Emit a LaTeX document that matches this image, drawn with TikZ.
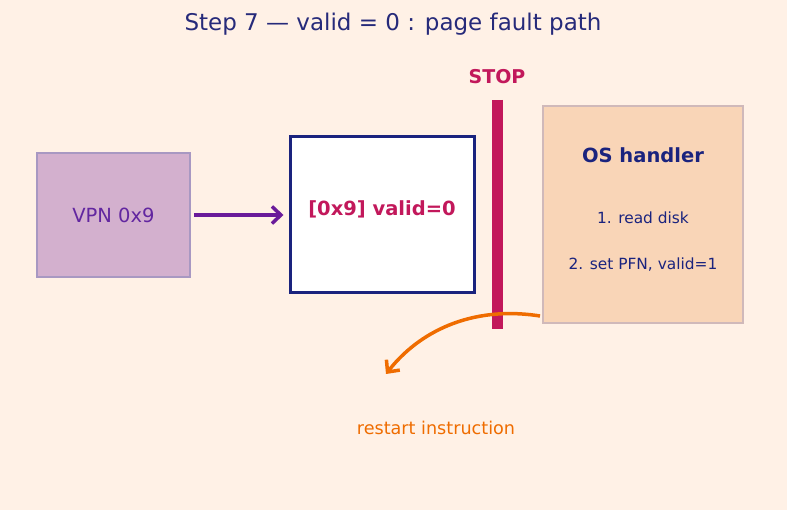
\documentclass[tikz,border=0pt]{standalone}
\usepackage{fontspec}
\setmainfont{DejaVu Sans}
\usetikzlibrary{arrows.meta}
\definecolor{bg}{HTML}{FFF1E6}
\definecolor{navy}{HTML}{1A237E}
\definecolor{titlec}{HTML}{262A7A}
\definecolor{mag}{HTML}{C2185B}
\definecolor{purp}{HTML}{6A1B9A}
\definecolor{vpnfill}{HTML}{D3B0CE}
\definecolor{vpnline}{HTML}{A898C2}
\definecolor{vpntext}{HTML}{6226A0}
\definecolor{osfill}{HTML}{F9D5B7}
\definecolor{osline}{HTML}{D0B9BA}
\definecolor{orng}{HTML}{EF6C00}
\tikzset{
  box/.style={draw, line width=2.5pt, inner sep=0pt},
  lbl/.style={inner sep=0pt, anchor=center},
  tip/.style={-{Straight Barb[length=9pt,width=17pt]}},
}
\begin{document}
\begin{tikzpicture}[x=1pt,y=-1pt]
\fill[bg] (0,0) rectangle (787,510);
\useasboundingbox (0,0) rectangle (787,510);
\node[lbl, text=titlec, font=\fontsize{23}{26}\selectfont] (title) at (393,24) {Step 7 — valid = 0 : page fault path};
\node[box, fill=vpnfill, draw=vpnline, minimum width=153pt, minimum height=124pt] (vpn) at (113.5,215) {};
\node[lbl, text=vpntext, font=\fontsize{19.5}{22}\selectfont] (vpnt) at (113.5,215) {VPN 0x9};
\node[box, fill=white, draw=navy, line width=3pt, minimum width=184pt, minimum height=156pt] (pte) at (382,215) {};
\node[lbl, text=mag, font=\bfseries\fontsize{19.5}{22}\selectfont] (ptet) at (382,209) {[0x9] valid=0};
\node[box, fill=osfill, draw=osline, minimum width=200pt, minimum height=217pt] (os) at (643,214.5) {};
\node[lbl, text=navy, font=\bfseries\fontsize{19.5}{22}\selectfont] (ost) at (643,155) {OS handler};
\node[lbl, text=navy, font=\fontsize{15.4}{18}\selectfont] (os1) at (643,218) {1. read disk};
\node[lbl, text=navy, font=\fontsize{15.4}{18}\selectfont] (os2) at (643,265) {2. set PFN, valid=1};
\node[lbl, text=mag, font=\bfseries\fontsize{19}{22}\selectfont] (stop) at (497,77) {STOP};
\coordinate (bartop) at (497,100);
\coordinate (barbot) at (497,329);
\draw[mag, line width=11pt] (bartop) -- (barbot);
\draw[purp, line width=3.5pt, tip] ([xshift=3pt]vpn.east) -- ([xshift=-5pt]vpn.east -| pte.west);
\coordinate (rs) at (540,316);
\coordinate (re) at (386,374);
\draw[orng, line width=3.5pt, tip] (rs) .. controls (470,305) and (418,333) .. (re);
\node[lbl, text=orng, font=\fontsize{17.6}{20}\selectfont] (rt) at (436,428) {restart instruction};
\end{tikzpicture}
\end{document}
